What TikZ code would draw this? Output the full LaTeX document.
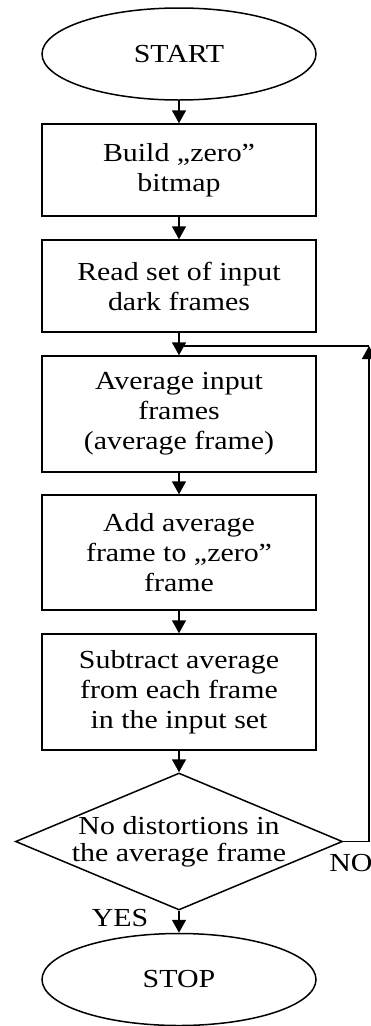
\documentclass[tikz,border=0pt]{standalone}
\usepackage{fontspec}
\setmainfont{Liberation Serif}[FakeStretch=1.15]
\usepackage{tikz}
\usetikzlibrary{arrows.meta,shapes.geometric}

\tikzset{
  chartfont/.style={font=\fontsize{26}{30}\selectfont},
  terminal/.style={ellipse, draw, line width=1.5pt, inner sep=0pt,
    minimum width=274pt, minimum height=92pt, chartfont},
  process/.style={rectangle, draw, line width=1.5pt, inner sep=0pt,
    minimum width=274pt, align=center, chartfont},
  decision/.style={diamond, draw, line width=1.5pt, inner sep=0pt,
    minimum width=327pt, minimum height=137pt},
  flow/.style={line width=1.5pt, -{Triangle[length=13pt,width=14pt]}},
}

\begin{document}
\begin{tikzpicture}[x=1pt,y=-1pt]
    \useasboundingbox (0,0) rectangle (371,1026);

    % Start and stop ellipses
    \node[terminal] (start) at (179,54) {START};
    \node[terminal] (stop) at (179,979.5) {STOP};

    % Process boxes
    \node[process, minimum height=92pt] (build) at (179,170) {Build „zero”\\bitmap};
    \node[process, minimum height=92pt] (read) at (179,286) {Read set of input\\dark frames};
    \node[process, minimum height=116pt] (avg) at (179,414) {Average input\\frames\\(average frame)};
    \node[process, minimum height=115pt] (add) at (179,552.5) {Add average\\frame to „zero”\\frame};
    \node[process, minimum height=116pt] (sub) at (179,692) {Subtract average\\from each frame\\in the input set};

    % Decision diamond and its text
    \node[decision] (check) at (179,841.5) {};
    \node[chartfont, align=center, font=\fontsize{26}{27}\selectfont] (checktext) at (check.center)
        {No distortions in\\the average frame};

    % Arrows down the chart
    \draw[flow] (start) -- (build);
    \draw[flow] (build) -- (read);
    \draw[flow] (read) -- (avg);
    \draw[flow] (avg) -- (add);
    \draw[flow] (add) -- (sub);
    \draw[flow] (sub) -- (check);
    \draw[flow] (check) -- (stop);

    % Loop back when distortions remain
    \coordinate (loopcorner) at (369,346);
    \coordinate (loopjoin) at (179,346);
    \draw[flow] (check.east) -| (loopcorner);
    \draw[line width=1.5pt] (loopcorner) -- (loopjoin);

    % Branch labels
    \node[chartfont] (nolabel) at (351,863) {NO};
    \node[chartfont] (yeslabel) at (120,918) {YES};
\end{tikzpicture}
\end{document}
